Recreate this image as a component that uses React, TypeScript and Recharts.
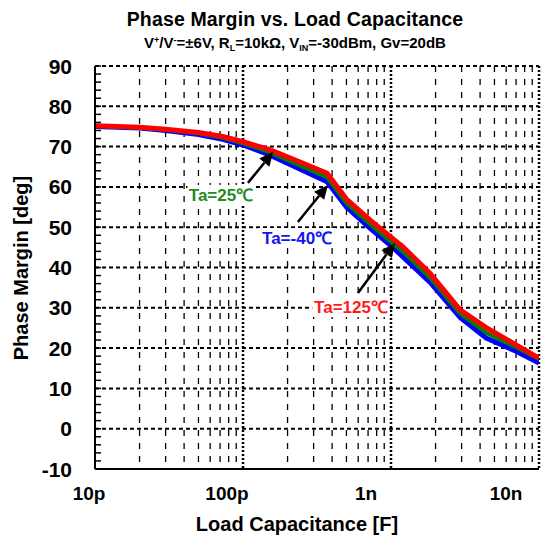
import { LineChart, Line, XAxis, YAxis, ReferenceLine, ReferenceDot, CartesianGrid } from 'recharts';

// load capacitance in pF, phase margin in deg
const capacitance = [10, 20, 30, 50, 73, 100, 150, 250, 370, 500, 720, 1000, 1200, 1840, 2930, 4400, 7000, 10000];
const pm125 = [75.2, 74.8, 74.3, 73.5, 72.5, 71.2, 69.3, 66.0, 63.4, 57.0, 51.8, 47.5, 45.2, 38.5, 29.5, 25.1, 20.8, 17.5];
const pm25 = [75.1, 74.7, 74.2, 73.3, 72.2, 70.8, 68.7, 65.1, 62.4, 56.0, 50.8, 46.4, 44.0, 37.4, 28.6, 23.8, 20.2, 17.3];
const pmMinus40 = [75.0, 74.6, 74.0, 73.0, 71.8, 70.4, 68.0, 64.2, 61.3, 55.0, 49.8, 45.4, 42.7, 36.3, 27.6, 22.5, 19.2, 16.3];

const xTicks = [10, 100, 1000, 10000];
const xTickLabels = ['10p', '100p', '1n', '10n'];
const yTicks = [-10, -8, -6, -4, -2, 0, 2, 4, 6, 8, 10, 12, 14, 16, 18, 20, 22, 24, 26, 28, 30, 32, 34, 36, 38, 40, 42, 44, 46, 48, 50, 52, 54, 56, 58, 60, 62, 64, 66, 68, 70, 72, 74, 76, 78, 80, 82, 84, 86, 88, 90];
const yGrid = [0, 10, 20, 30, 40, 50, 60, 70, 80, 90];
const xMinorGrid = [20, 30, 40, 50, 60, 70, 80, 90, 200, 300, 400, 500, 600, 700, 800, 900, 2000, 3000, 4000, 5000, 6000, 7000, 8000, 9000];
const xMajorGrid = [100, 1000, 10000];

// arrows: tip and tail in data coords, label anchor in data coords
const notes = [
  { text: 'Ta=25℃', color: '#1e8c1e', tip: [160, 68.7], tail: [108, 61.0], at: [71, 58.0] },
  { text: 'Ta=-40℃', color: '#1414f0', tip: [375, 60.5], tail: [235, 51.3], at: [232, 47.3] },
  { text: 'Ta=125℃', color: '#ff1a1a', tip: [1064, 46.1], tail: [598, 33.7], at: [537, 30.2] },
];

const data = capacitance.map((c, i) => ({
  c,
  pm125: pm125[i],
  pm25: pm25[i],
  pmMinus40: pmMinus40[i],
}));

const FONT = '"Liberation Sans", Arial, sans-serif';
const PLOT_LEFT = 95;
const TICK_NUDGE = [-6, -16, -25, -33];

// vertical grid positions through the x axis' log scale
const gridAt = (values: number[]) => ({ xAxis, offset }: any) =>
  values.map((v) => {
    if (xAxis && typeof xAxis.scale === 'function') return xAxis.scale(v);
    return offset.left + ((Math.log10(v) - 1) / 3) * offset.width;
  });

const XTick = ({ x, y, payload, index }: any) => (
  <text
    x={x + (TICK_NUDGE[index] ?? 0)}
    y={y + 23}
    textAnchor="middle"
    fontFamily={FONT}
    fontWeight="bold"
    fontSize={19}
    fill="#000"
  >
    {xTickLabels[xTicks.indexOf(payload.value)]}
  </text>
);

const YTick = ({ y, payload }: any) => (
  <g>
    <line x1={PLOT_LEFT} x2={PLOT_LEFT + 6} y1={y} y2={y} stroke="#000" strokeWidth={1.5} />
    {payload.value % 10 === 0 && (
      <text
        x={72}
        y={y + 7.5}
        textAnchor="end"
        fontFamily={FONT}
        fontWeight="bold"
        fontSize={21}
        fill="#000"
      >
        {payload.value}
      </text>
    )}
  </g>
);

const Arrow = (props: any) => {
  const { x1, y1, x2, y2 } = props;
  const dx = x2 - x1;
  const dy = y2 - y1;
  const len = Math.sqrt(dx * dx + dy * dy);
  const ux = dx / len;
  const uy = dy / len;
  const hl = 14;
  const hw = 6.5;
  const bx = x2 - ux * hl;
  const by = y2 - uy * hl;
  return (
    <g>
      <line x1={x1} y1={y1} x2={bx} y2={by} stroke="#000" strokeWidth={2.5} />
      <polygon
        points={`${x2},${y2} ${bx - uy * hw},${by + ux * hw} ${bx + uy * hw},${by - ux * hw}`}
        fill="#000"
      />
    </g>
  );
};

const noteLabel = (text: string, color: string) => (p: any) => {
  const w = text.length * 10.5 + 4;
  return (
    <g>
      <rect x={p.cx - w / 2} y={p.cy - 10} width={w} height={20} fill="#fff" />
      <text
        x={p.cx}
        y={p.cy + 6}
        textAnchor="middle"
        fontFamily={FONT}
        fontWeight="bold"
        fontSize={17}
        fill={color}
      >
        {text}
      </text>
    </g>
  );
};

export default function App() {
  return (
    <div style={{ position: 'relative', width: 558, height: 545, overflow: 'hidden', background: '#fff', fontFamily: FONT }}>
      <style>{'body{margin:0}'}</style>
      <div style={{ position: 'absolute', left: 45, width: 500, top: 7, textAlign: 'center', fontWeight: 'bold', fontSize: 19.5, letterSpacing: 0.15, lineHeight: '24px' }}>
        Phase Margin vs. Load Capacitance
      </div>
      <div style={{ position: 'absolute', left: 45, width: 500, top: 31, textAlign: 'center', fontWeight: 'bold', fontSize: 15, lineHeight: '18px' }}>
        V<sup style={{ fontSize: 9, verticalAlign: '5px' }}>+</sup>/V<sup style={{ fontSize: 9, verticalAlign: '5px' }}>-</sup>=±6V, R
        <sub style={{ fontSize: 9, verticalAlign: '-3px' }}>L</sub>=10kΩ, V
        <sub style={{ fontSize: 9, verticalAlign: '-3px' }}>IN</sub>=-30dBm, Gv=20dB
      </div>
      <div style={{ position: 'absolute', left: 21 - 150, top: 268 - 12, width: 300, height: 24, lineHeight: '24px', textAlign: 'center', transform: 'rotate(-90deg)', fontWeight: 'bold', fontSize: 20 }}>
        Phase Margin [deg]
      </div>
      <div style={{ position: 'absolute', left: 97, width: 400, top: 512, textAlign: 'center', fontWeight: 'bold', fontSize: 20, lineHeight: '24px' }}>
        Load Capacitance [F]
      </div>
      <div style={{ position: 'absolute', left: 0, top: 0 }}>
        <LineChart width={558} height={545} data={data} margin={{ top: 66, right: 19, bottom: 46, left: 0 }}>
          <CartesianGrid
            horizontal={false}
            verticalCoordinatesGenerator={gridAt(xMinorGrid)}
            stroke="#000"
            strokeWidth={1.3}
            strokeDasharray="6 7"
          />
          <CartesianGrid
            horizontal={false}
            verticalCoordinatesGenerator={gridAt(xMajorGrid)}
            stroke="#000"
            strokeWidth={2.5}
            strokeDasharray="2 2"
          />
          <XAxis
            dataKey="c"
            type="number"
            scale="log"
            domain={[10, 10000]}
            ticks={xTicks}
            allowDataOverflow
            height={30}
            tickLine={false}
            axisLine={{ stroke: '#000', strokeWidth: 2 }}
            tick={<XTick />}
            interval={0}
          />
          <YAxis
            type="number"
            domain={[-10, 90]}
            ticks={yTicks}
            width={95}
            tickLine={false}
            axisLine={{ stroke: '#000', strokeWidth: 2 }}
            tick={<YTick />}
            interval={0}
          />
          {yGrid.map((v) => (
            <ReferenceLine key={`y${v}`} y={v} stroke="#000" strokeWidth={2} strokeDasharray="4 3" />
          ))}
          {notes.map((n) => (
            <ReferenceDot key={`t${n.text}`} x={n.at[0]} y={n.at[1]} r={0} shape={noteLabel(n.text, n.color)} />
          ))}
          <Line type="linear" dataKey="pmMinus40" stroke="#0000ff" strokeWidth={5} dot={false} isAnimationActive={false} />
          <Line type="linear" dataKey="pm25" stroke="#008000" strokeWidth={4} dot={false} isAnimationActive={false} />
          <Line type="linear" dataKey="pm125" stroke="#ff0000" strokeWidth={5} dot={false} isAnimationActive={false} />
          {notes.map((n) => (
            <ReferenceLine
              key={`a${n.text}`}
              segment={[{ x: n.tail[0], y: n.tail[1] }, { x: n.tip[0], y: n.tip[1] }]}
              shape={<Arrow />}
            />
          ))}
        </LineChart>
      </div>
    </div>
  );
}
